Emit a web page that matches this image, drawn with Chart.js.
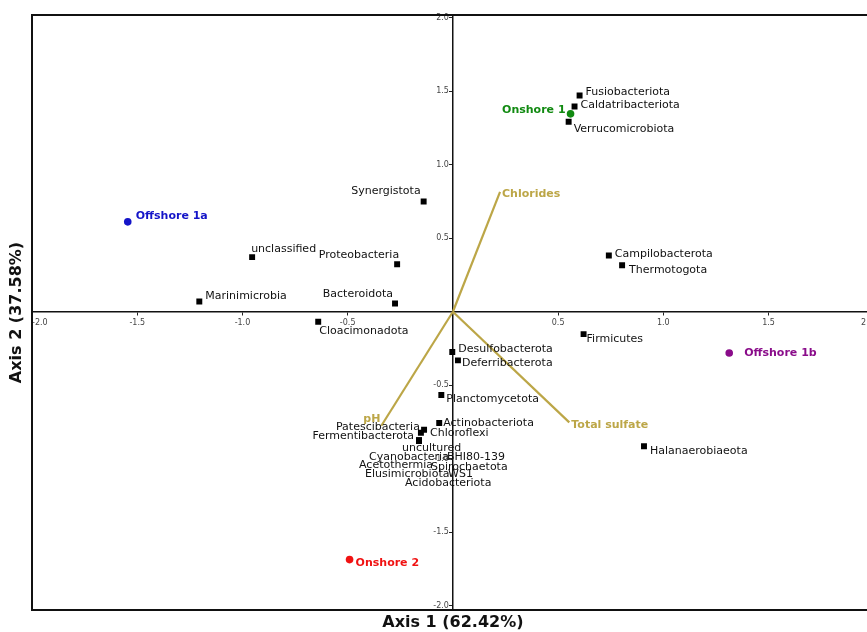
<!DOCTYPE html>
<html>
<head>
<meta charset="utf-8">
<script src="https://cdn.jsdelivr.net/npm/chart.js@4/dist/chart.umd.min.js"></script>
<style>
    html, body { margin: 0; padding: 0; background: #fff; overflow: hidden; }
    #wrap { position: absolute; left: 0; top: 0; width: 878px; height: 632px; }
</style>
</head>
<body>
<div id="wrap"><canvas id="biplot"></canvas></div>
<script>
// Taxa (black squares)
const speciesNames = [
    'Synergistota', 'unclassified', 'Proteobacteria', 'Marinimicrobia', 'Bacteroidota',
    'Cloacimonadota', 'Fusiobacteriota', 'Caldatribacteriota', 'Verrucomicrobiota',
    'Campilobacterota', 'Thermotogota', 'Firmicutes', 'Halanaerobiaeota',
    'Desulfobacterota', 'Deferribacterota', 'Planctomycetota', 'Actinobacteriota',
    'Chloroflexi', 'Patescibacteria', 'Fermentibacterota', 'uncultured', 'Cyanobacteria',
    'BHI80-139', 'Acetothermia', 'Spirochaetota', 'Elusimicrobiota', 'WS1', 'Acidobacteriota'
];
const speciesX = [
    -0.139, -0.954, -0.265, -1.205, -0.275,
    -0.640, 0.602, 0.578, 0.550,
    0.741, 0.804, 0.621, 0.908,
    -0.003, 0.024, -0.055, -0.065,
    -0.137, -0.152, -0.161, -0.161, -0.161,
    -0.161, -0.161, -0.161, -0.161, -0.161, -0.161
];
const speciesY = [
    0.750, 0.372, 0.324, 0.070, 0.056,
    -0.068, 1.472, 1.397, 1.293,
    0.383, 0.317, -0.152, -0.916,
    -0.274, -0.331, -0.567, -0.757,
    -0.803, -0.823, -0.878, -0.878, -0.878,
    -0.878, -0.878, -0.878, -0.878, -0.878, -0.878
];

// Samples (coloured circles)
const sampleNames = ['Offshore 1a', 'Onshore 1', 'Offshore 1b', 'Onshore 2'];
const sampleX = [-1.545, 0.559, 1.313, -0.491];
const sampleY = [0.612, 1.347, -0.281, -1.687];
const sampleColors = ['#1414c8', '#118a11', '#8a0c8a', '#f01212'];

// Environmental vectors
const envNames = ['Chlorides', 'Total sulfate', 'pH'];
const envX = [0.224, 0.553, -0.340];
const envY = [0.816, -0.753, -0.776];

const xTickValues = [-2, -1.5, -1, -0.5, 0.5, 1, 1.5, 2];
const yTickValues = [-2, -1.5, -1, -0.5, 0.5, 1, 1.5, 2];

const gold = '#bca647';

// label placement relative to its point: [dx, dy, align]
const labelOffsets = {
    'Synergistota': [-3, -10, 'right'],
    'unclassified': [-1, -8, 'left'],
    'Proteobacteria': [2, -9, 'right'],
    'Marinimicrobia': [6, -5, 'left'],
    'Bacteroidota': [-2, -9, 'right'],
    'Cloacimonadota': [1, 9, 'left'],
    'Fusiobacteriota': [6, -3, 'left'],
    'Caldatribacteriota': [6, -1, 'left'],
    'Verrucomicrobiota': [5, 7, 'left'],
    'Campilobacterota': [6, -1, 'left'],
    'Thermotogota': [7, 5, 'left'],
    'Firmicutes': [3, 5, 'left'],
    'Halanaerobiaeota': [6, 5, 'left'],
    'Desulfobacterota': [6, -3, 'left'],
    'Deferribacterota': [4, 3, 'left'],
    'Planctomycetota': [5, 4, 'left'],
    'Actinobacteriota': [4, 0, 'left'],
    'Chloroflexi': [6, 3, 'left'],
    'Patescibacteria': [-1, -6, 'right'],
    'Fermentibacterota': [-5, -5, 'right'],
    'uncultured': [-17, 7, 'left'],
    'Cyanobacteria': [-50, 16, 'left'],
    'BHI80-139': [28, 16, 'left'],
    'Acetothermia': [-60, 24, 'left'],
    'Spirochaetota': [12, 26, 'left'],
    'Elusimicrobiota': [-54, 33, 'left'],
    'WS1': [29, 33, 'left'],
    'Acidobacteriota': [-14, 42, 'left'],
    'Offshore 1a': [8, -6, 'left'],
    'Onshore 1': [-5, -4, 'right'],
    'Offshore 1b': [15, 0, 'left'],
    'Onshore 2': [6, 4, 'left'],
    'Chlorides': [2, 2, 'left'],
    'Total sulfate': [2, 3, 'left'],
    'pH': [-1, -7, 'right']
};

const pointLabels = {
    id: 'pointLabels',
    afterDatasetsDraw(chart) {
        const ctx = chart.ctx;
        chart.data.datasets.forEach((ds, di) => {
            if (!ds.pointNames) return;
            const meta = chart.getDatasetMeta(di);
            ctx.save();
            ctx.font = ds.labelFont;
            ctx.textBaseline = 'middle';
            ds.pointNames.forEach((name, i) => {
                if (!name) return;
                const el = meta.data[i];
                const off = labelOffsets[name] || [6, 0, 'left'];
                ctx.fillStyle = Array.isArray(ds.labelColor) ? ds.labelColor[i] : ds.labelColor;
                ctx.textAlign = off[2];
                ctx.fillText(name, el.x + off[0], el.y + off[1]);
            });
            ctx.restore();
        });
    }
};

const datasets = [];

envNames.forEach((name, i) => {
    datasets.push({
        type: 'scatter',
        data: [{ x: 0, y: 0 }, { x: envX[i], y: envY[i] }],
        showLine: true,
        borderColor: gold,
        borderWidth: 2.2,
        pointRadius: 0,
        order: 3,
        pointNames: ['', name],
        labelColor: gold,
        labelFont: 'bold 11px "DejaVu Sans"'
    });
});

datasets.push({
    type: 'scatter',
    data: speciesNames.map((n, i) => ({ x: speciesX[i], y: speciesY[i] })),
    pointStyle: 'rect',
    pointRadius: 4.2,
    backgroundColor: '#000',
    borderWidth: 0,
    order: 2,
    pointNames: speciesNames,
    labelColor: '#111',
    labelFont: '11px "DejaVu Sans"'
});

datasets.push({
    type: 'scatter',
    data: sampleNames.map((n, i) => ({ x: sampleX[i], y: sampleY[i] })),
    pointStyle: 'circle',
    pointRadius: 3.8,
    backgroundColor: sampleColors,
    borderWidth: 0,
    order: 1,
    pointNames: sampleNames,
    labelColor: sampleColors,
    labelFont: 'bold 11px "DejaVu Sans"'
});

const tickFont = { family: 'DejaVu Sans', size: 8 };
const frameAxis = (axis, position, title) => ({
    type: 'linear',
    axis: axis,
    position: position,
    min: -2,
    max: 2,
    ticks: { display: false },
    grid: { display: false, drawTicks: false },
    border: { display: true, color: '#111', width: 2 },
    title: title || { display: false }
});

new Chart(document.getElementById('biplot'), {
    type: 'scatter',
    data: { datasets: datasets },
    options: {
        responsive: true,
        maintainAspectRatio: false,
        animation: false,
        devicePixelRatio: 1,
        layout: { padding: { left: 0, top: 15, right: 1, bottom: 0 } },
        plugins: {
            legend: { display: false },
            tooltip: { enabled: false }
        },
        scales: {
            x: {
                type: 'linear',
                position: { y: 0 },
                min: -2,
                max: 2,
                afterBuildTicks: axis => { axis.ticks = xTickValues.map(v => ({ value: v })); },
                ticks: {
                    font: tickFont,
                    color: '#444',
                    padding: 3,
                    align: 'inner',
                    maxRotation: 0,
                    autoSkip: false,
                    callback: v => v.toFixed(1)
                },
                grid: { drawOnChartArea: false, drawTicks: true, tickLength: 3, tickColor: '#222' },
                border: { color: '#111', width: 1.5 }
            },
            y: {
                type: 'linear',
                position: { x: 0 },
                min: -2.03,
                max: 2.02,
                afterBuildTicks: axis => { axis.ticks = yTickValues.map(v => ({ value: v })); },
                ticks: {
                    font: tickFont,
                    color: '#444',
                    padding: 1,
                    autoSkip: false,
                    // keep the label clear of the tick mark
                    callback: v => v.toFixed(1) + '\u2002'
                },
                grid: { drawOnChartArea: false, drawTicks: true, tickLength: 3, tickColor: '#222' },
                border: { color: '#111', width: 1.5 }
            },
            xb: frameAxis('x', 'bottom', {
                display: true,
                text: 'Axis 1 (62.42%)',
                color: '#111',
                font: { family: 'DejaVu Sans', size: 16, weight: 'bold' },
                padding: { top: 2.8, bottom: 0 }
            }),
            xt: frameAxis('x', 'top'),
            yl: frameAxis('y', 'left', {
                display: true,
                text: 'Axis 2 (37.58%)',
                color: '#111',
                font: { family: 'DejaVu Sans', size: 16, weight: 'bold' },
                padding: { top: 7.4, bottom: 5.4 }
            }),
            yr: frameAxis('y', 'right')
        }
    },
    plugins: [pointLabels]
});
</script>
</body>
</html>
